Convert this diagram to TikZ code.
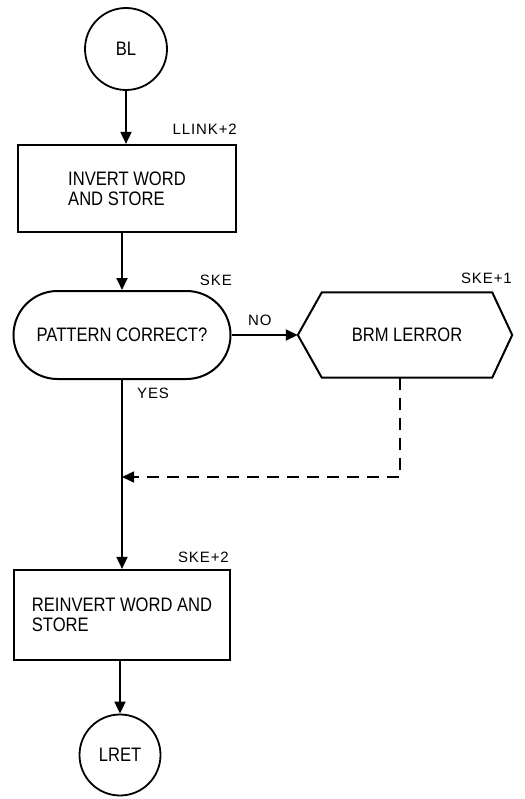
\documentclass[tikz,border=0pt]{standalone}
\usepackage{fontspec}
\setmainfont{Liberation Sans}[FakeStretch=0.85]
\newfontfamily\lblfont{Liberation Sans}[LetterSpace=6]
\usetikzlibrary{arrows.meta}
\begin{document}
\begin{tikzpicture}[x=1pt,y=-1pt,
  maintext/.style={font=\fontsize{19.5}{20}\selectfont},
  lbl/.style={font=\lblfont\fontsize{15}{16}\selectfont, inner sep=0pt},
  circ/.style={circle, draw, line width=1.8pt, minimum size=82pt, inner sep=0pt, maintext},
  procbox/.style={draw, line width=2.2pt, align=left, inner sep=0pt, maintext},
  termbox/.style={draw, line width=2pt, inner sep=0pt, maintext},
  hexline/.style={line width=2pt, line join=miter},
  conn/.style={line width=1.8pt, -{Triangle[length=12pt,width=11pt]}},
  dashconn/.style={line width=1.5pt, dash pattern=on 12pt off 8pt, -{Triangle[length=12pt,width=11pt]}}
]
\useasboundingbox (0,0) rectangle (524,799);

\node[circ] (bl) at (126,49) {BL};
\node[procbox, minimum width=218pt, minimum height=87pt] (b1) at (127,188.5) {INVERT WORD\\AND STORE};
\node[termbox, minimum width=217pt, minimum height=88pt, rounded corners=44pt] (t) at (122,335) {PATTERN CORRECT?};
\node[maintext, minimum width=170pt, minimum height=85pt, inner sep=0pt] (e) at (407,335) {BRM LERROR};
\coordinate (etip) at ([xshift=-24pt]e.west);
\coordinate (eright) at ([xshift=20pt]e.east);
\draw[hexline] (e.north west) -- (e.north east) -- (eright) -- (e.south east) -- (e.south west) -- (etip) -- cycle;
\node[procbox, minimum width=216pt, minimum height=90pt] (b2) at (122,615) {REINVERT WORD AND\\STORE};
\node[circ, minimum size=81pt] (lr) at (120,755) {LRET};

% labels
\node[lbl, anchor=base east] (l1) at (237,135) {LLINK+2};
\node[lbl, anchor=base east] (l2) at (232,285) {SKE};
\node[lbl, anchor=base east] (l3) at (512,283) {SKE+1};
\node[lbl, anchor=base west] (l4) at (248,325) {NO};
\node[lbl, anchor=base west] (l5) at (137,398) {YES};
\node[lbl, anchor=base east] (l6) at (229,562) {SKE+2};

% connectors
\draw[conn] (bl.south) -- (bl.south |- b1.north);
\draw[conn] (t.north |- b1.south) -- (t.north);
\draw[conn] (t.east) -- (etip);
\draw[conn] (t.south) -- (b2.north);
\coordinate (dstart) at ([xshift=-7pt]e.south);
\coordinate (dc) at (400,477);
\draw[dashconn] (dstart) -- (dc) -- (dc -| t.south);
\draw[conn] (b2.south -| lr.north) -- (lr.north);
\end{tikzpicture}
\end{document}
